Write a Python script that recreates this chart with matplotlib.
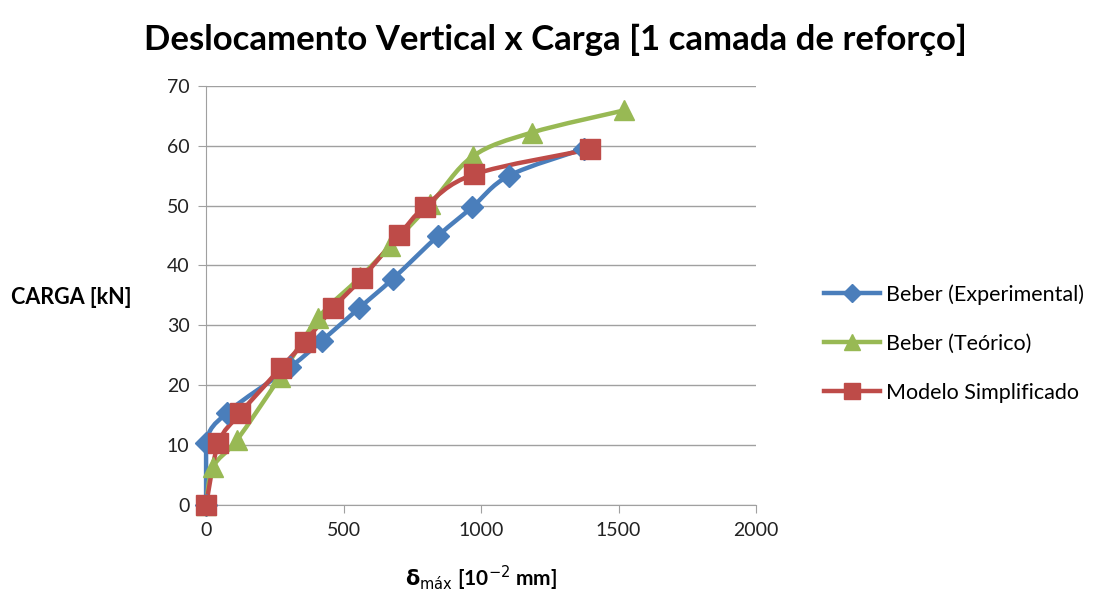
import numpy as np
import matplotlib.pyplot as plt
from matplotlib.path import Path
from matplotlib.patches import PathPatch
from matplotlib.lines import Line2D

plt.rcParams['font.family'] = ['Lato', 'DejaVu Sans']

exp_x = [0, 0, 76, 305, 420, 557, 680, 845, 967, 1102, 1375]
exp_y = [0, 10.4, 15.4, 23.0, 27.4, 32.9, 37.8, 45.0, 49.7, 55.0, 59.5]

teo_x = [0, 25, 113, 269, 407, 560, 669, 815, 969, 1185, 1520]
teo_y = [0, 6.3, 10.9, 21.4, 31.2, 38.0, 43.2, 50.2, 58.2, 62.2, 65.9]

mod_x = [0, 45, 124, 272, 360, 462, 567, 702, 796, 973, 1396]
mod_y = [0, 10.3, 15.3, 22.9, 27.3, 32.9, 37.9, 45.1, 49.8, 55.2, 59.4]

blue = '#4A7EBB'
green = '#98B954'
red = '#BE4B48'


def smooth_path(x, y, t=1/6):
    # Catmull-Rom style bezier, like Excel's smoothed line
    pts = np.column_stack([x, y]).astype(float)
    verts = [pts[0]]
    codes = [Path.MOVETO]
    n = len(pts)
    for i in range(n - 1):
        p0 = pts[max(i - 1, 0)]
        p1 = pts[i]
        p2 = pts[i + 1]
        p3 = pts[min(i + 2, n - 1)]
        c1 = p1 + (p2 - p0) * t
        c2 = p2 - (p3 - p1) * t
        c1[0] = max(c1[0], 0)
        c2[0] = max(c2[0], 0)
        verts += [c1, c2, p2]
        codes += [Path.CURVE4] * 3
    return Path(verts, codes)


fig = plt.figure(figsize=(11.2, 5.92), dpi=100)
ax = fig.add_axes([0.184, 0.147, 0.491, 0.708])

series = [
    (exp_x, exp_y, blue, 'D', 11, 'Beber (Experimental)'),
    (teo_x, teo_y, green, '^', 14, 'Beber (Teórico)'),
    (mod_x, mod_y, red, 's', 14, 'Modelo Simplificado'),
]
handles = []
for x, y, c, m, ms, lab in series:
    ax.add_patch(PathPatch(smooth_path(x, y), facecolor='none', edgecolor=c,
                           lw=3.2, zorder=3, clip_on=False))
    ax.plot(x, y, linestyle='none', marker=m, markersize=ms, color=c,
            zorder=4, clip_on=False)
    handles.append(Line2D([], [], color=c, lw=3.2, marker=m, markersize=ms * 0.8, label=lab))

ax.set_xlim(0, 2000)
ax.set_ylim(0, 70)
ax.set_xticks(np.arange(0, 2001, 500))
ax.set_yticks(np.arange(0, 71, 10))
ax.yaxis.grid(True, color='#A0A0A0', lw=1)
ax.set_axisbelow(True)
for s in ['top', 'right']:
    ax.spines[s].set_visible(False)
for s in ['left', 'bottom']:
    ax.spines[s].set_color('#A0A0A0')
ax.tick_params(axis='both', colors='#A0A0A0', length=6, labelsize=14,
               labelcolor='#222222', pad=6)

ax.set_title('Deslocamento Vertical x Carga [1 camada de reforço]',
             fontsize=25, fontweight='bold', pad=26, x=0.636)
ax.set_xlabel(r'$\mathbf{\delta}_{\mathrm{máx}}$ [10$^{\mathrm{-2}}$ mm]',
              fontsize=15, fontweight='bold', labelpad=18)
fig.text(0.01, 0.497, 'CARGA [kN]', fontsize=15.5, fontweight='bold', va='center')

fig.legend(handles=handles, loc='center left', bbox_to_anchor=(0.718, 0.42),
           frameon=False, fontsize=15.5, handlelength=2.6, labelspacing=1.35,
           handletextpad=0.3)

fig.savefig('out.png', dpi=100)
